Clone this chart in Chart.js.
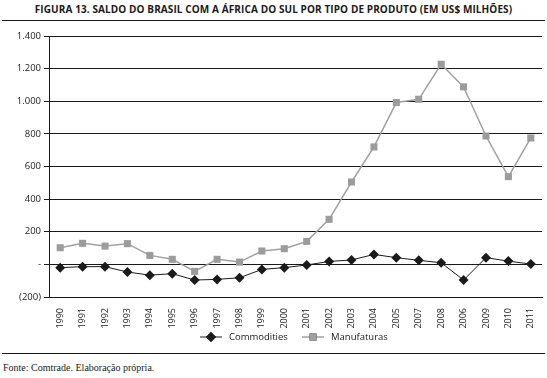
<!DOCTYPE html>
<html>
<head>
<meta charset="utf-8">
<script src="https://cdn.jsdelivr.net/npm/chart.js@4"></script>
<style>
  html, body { margin:0; padding:0; background:#fff; }
  body { width:547px; height:378px; position:relative; overflow:hidden; }
  #title { position:absolute; left:0; top:2px; width:547px; text-align:center;
    font-family:"Open Sans", sans-serif; font-weight:700; font-size:10px; color:#1a1a1a; letter-spacing:0.1px; }
  .rule { position:absolute; left:2px; width:543px; height:1px; background:#1a1a1a; }
  #src { position:absolute; left:3px; top:362px; font-family:"Liberation Serif", serif; font-size:10px; color:#1a1a1a; }
  canvas { position:absolute; left:0; top:0; }
</style>
</head>
<body>
<div id="title">FIGURA 13. SALDO DO BRASIL COM A ÁFRICA DO SUL POR TIPO DE PRODUTO (EM US$ MILHÕES)</div>
<div class="rule" style="top:20px"></div>
<div class="rule" style="top:353px"></div>
<div id="src">Fonte: Comtrade. Elaboração própria.</div>
<canvas id="c" width="547" height="378"></canvas>
<script>
// anos (ordem como no original)
const years = ['1990','1991','1992','1993','1994','1995','1996','1997','1998','1999','2000',
  '2001','2002','2003','2004','2005','2007','2008','2006','2009','2010','2011'];
const commodities = [-20,-14,-14,-47,-66,-57,-96,-92,-82,-31,-20,
  -4,18,27,61,41,25,10,-96,41,20,2];
const manufaturas = [102,129,112,127,55,31,-43,31,14,82,96,
  141,276,505,720,992,1012,1227,1088,787,538,775];

const FONT = '"Open Sans", sans-serif';
const INK = '#1a1a1a';
const GRAY = '#a0a0a0';

function fmtY(v){
  if (v === 0) return '-';
  const s = Math.abs(v).toString().replace(/\B(?=(\d{3})+(?!\d))/g, '.');
  return v < 0 ? '(' + s + ')' : s;
}

// legenda desenhada à mão (linha + marcador)
const legendPlugin = {
  id: 'lineLegend',
  afterDraw(chart){
    const ctx = chart.ctx;
    const y = 337;
    const items = [
      { x: 200, text: 'Commodities', color: INK, lw: 1, style: 'rectRot', r: 5 },
      { x: 302, text: 'Manufaturas', color: GRAY, lw: 1.5, style: 'rect', r: 5 },
    ];
    ctx.save();
    ctx.font = '9.5px ' + FONT;
    ctx.textBaseline = 'middle';
    for (const it of items){
      ctx.strokeStyle = it.color; ctx.lineWidth = it.lw;
      ctx.beginPath(); ctx.moveTo(it.x, y); ctx.lineTo(it.x + 22, y); ctx.stroke();
      Chart.helpers.drawPoint(ctx, { pointStyle: it.style, radius: it.r, borderWidth: 0 }, it.x + 11, y);
      ctx.fillStyle = it.color; ctx.fill();
      ctx.fillStyle = INK;
      ctx.fillText(it.text, it.x + 29, y);
    }
    ctx.restore();
  }
};

new Chart(document.getElementById('c'), {
  type: 'line',
  data: {
    labels: years,
    datasets: [
      { label: 'Commodities', data: commodities, borderColor: INK, backgroundColor: INK,
        borderWidth: 1, pointStyle: 'rectRot', pointRadius: 5, pointBorderWidth: 0, tension: 0 },
      { label: 'Manufaturas', data: manufaturas, borderColor: GRAY, backgroundColor: '#9c9c9c',
        borderWidth: 1.5, pointStyle: 'rect', pointRadius: 5, pointBorderWidth: 0, tension: 0 },
    ]
  },
  options: {
    responsive: false,
    animation: false,
    layout: { padding: { left: 0, top: 36, right: 1, bottom: 46 } },
    plugins: { legend: { display: false }, tooltip: { enabled: false } },
    scales: {
      x: {
        offset: true,
        grid: { display: false },
        border: { display: true, color: INK, width: 1 },
        ticks: { color: INK, font: { family: FONT, size: 9 }, minRotation: 90, maxRotation: 90, autoSkip: false, padding: 3 },
        afterFit(s){ s.height = 35; }
      },
      y: {
        min: -200, max: 1400,
        grid: { color: INK, lineWidth: 1, tickLength: 5, drawTicks: true },
        border: { display: true, color: INK, width: 1 },
        ticks: { stepSize: 200, color: INK, font: { family: FONT, size: 9.5 }, padding: 3, callback: v => fmtY(v) },
        afterFit(s){ s.width = 49; }
      }
    }
  },
  plugins: [legendPlugin]
});
</script>
</body>
</html>
